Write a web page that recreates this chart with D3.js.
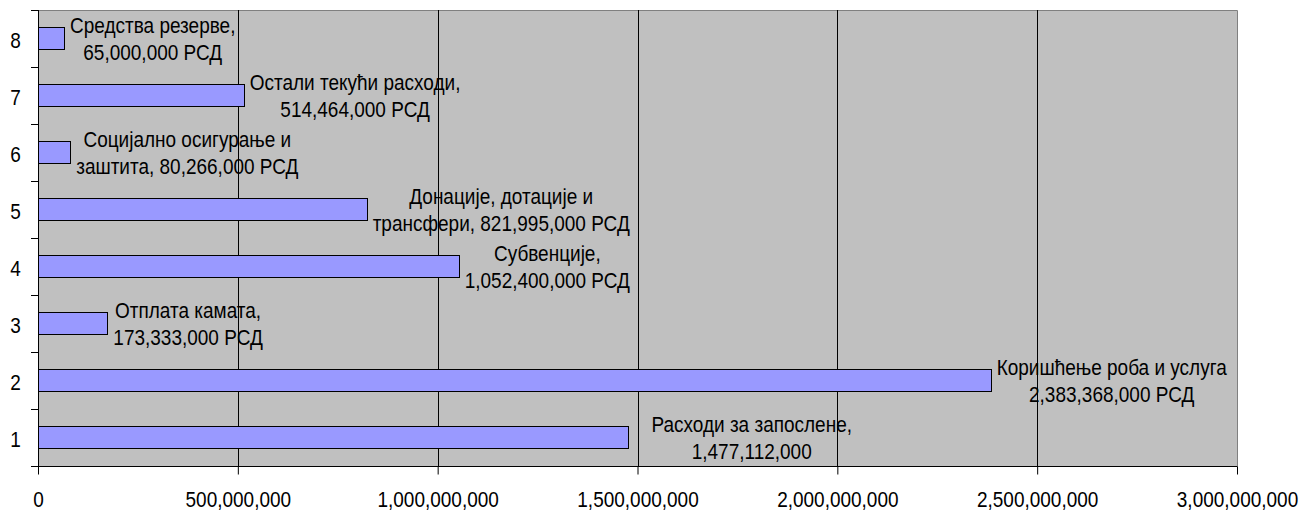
<!DOCTYPE html>
<html><head><meta charset="utf-8">
<script src="https://cdn.jsdelivr.net/npm/d3@7"></script>
<style>
html,body{margin:0;padding:0;background:#fff;}
svg{display:block;}
text{font-family:"Liberation Sans",Arial,sans-serif;fill:#000;}
</style></head>
<body>
<svg id="chart" width="1299" height="512"></svg>
<script>
const categories = ["1","2","3","4","5","6","7","8"];
const values = [1477112000, 2383368000, 173333000, 1052400000, 821995000, 80266000, 514464000, 65000000];
const labelLines = [
  ["Расходи за запослене,", "1,477,112,000"],
  ["Коришћење роба и услуга", "2,383,368,000 РСД"],
  ["Отплата камата,", "173,333,000 РСД"],
  ["Субвенције,", "1,052,400,000 РСД"],
  ["Донације, дотације и", "трансфери, 821,995,000 РСД"],
  ["Социјално осигурање и", "заштита, 80,266,000 РСД"],
  ["Остали текући расходи,", "514,464,000 РСД"],
  ["Средства резерве,", "65,000,000 РСД"]
];
const xTicks = [0, 500000000, 1000000000, 1500000000, 2000000000, 2500000000, 3000000000];
const xTickLabels = ["0", "500,000,000", "1,000,000,000", "1,500,000,000", "2,000,000,000", "2,500,000,000", "3,000,000,000"];

const svg = d3.select("#chart");
const L = 38, R = 1237, T = 10, B = 466;
const FS = 19, SY = 1.2;

const x = d3.scaleLinear().domain([0, 3000000000]).range([L, R]);
const y = d3.scaleBand().domain(categories.slice().reverse()).range([T, B]).paddingInner(0.61).paddingOuter(0.305);
const yb = d3.scaleBand().domain(categories.slice().reverse()).range([T, B]);

// plot background
svg.append("rect").attr("x", L).attr("y", T).attr("width", R - L).attr("height", B - T)
  .attr("fill", "#c0c0c0");
// top & right border
svg.append("path").attr("d", `M${L},${T+0.5}H${R+0.5}V${B}`).attr("fill","none").attr("stroke","#808080").attr("stroke-width",1);

// gridlines
svg.append("g").selectAll("line").data(xTicks.slice(1, -1)).join("line")
  .attr("x1", d => Math.round(x(d)) + 0.5).attr("x2", d => Math.round(x(d)) + 0.5)
  .attr("y1", T).attr("y2", B).attr("stroke", "#000").attr("stroke-width", 1);

// bars
svg.append("g").selectAll("rect").data(categories).join("rect")
  .attr("x", Math.round(x(0)) + 0.5)
  .attr("y", d => Math.round(y(d)) + 0.5)
  .attr("width", (d, i) => Math.round(x(values[i]) - x(0)))
  .attr("height", Math.round(y.bandwidth()))
  .attr("fill", "#9999ff").attr("stroke", "#000").attr("stroke-width", 1);

// x axis
const xAxis = d3.axisBottom(x).tickValues(xTicks).tickSize(8).tickFormat((d, i) => xTickLabels[i]);
const gx = svg.append("g").attr("transform", `translate(0,${B + 0.5})`).call(xAxis);
gx.select(".domain").attr("d", `M${L - 7},0H${R + 0.5}`).attr("stroke", "#000");
gx.selectAll(".tick line").attr("stroke", "#000");
gx.selectAll(".tick text").attr("font-size", FS).attr("font-family", "Liberation Sans, Arial, sans-serif")
  .attr("fill", "#000").attr("y", 0).attr("dy", 0)
  .attr("transform", `translate(0,40.3) scale(1,${SY})`);

// y axis
const yAxis = d3.axisLeft(yb).tickSize(0).tickPadding(0);
const gy = svg.append("g").attr("transform", `translate(${L + 0.5},0)`).call(yAxis);
gy.select(".domain").attr("d", `M0,${T}V${B}`).attr("stroke", "#000");
gy.selectAll(".tick text").attr("font-size", FS).attr("font-family", "Liberation Sans, Arial, sans-serif")
  .attr("fill", "#000").attr("x", 0).attr("dy", 0).attr("text-anchor", "middle")
  .attr("transform", `translate(-23,9.7) scale(1,${SY})`);
// band boundary ticks
const bounds = categories.map(c => yb(c)).concat([B]);
svg.append("g").selectAll("line").data(bounds).join("line")
  .attr("x1", L - 7).attr("x2", L).attr("y1", d => Math.round(d) + 0.5).attr("y2", d => Math.round(d) + 0.5)
  .attr("stroke", "#000");

// data labels
const lineH = 26.5;
const lg = svg.append("g");
categories.forEach((c, i) => {
  const g = lg.append("g");
  const cy = y(c) + y.bandwidth() / 2;
  const lines = labelLines[i];
  const texts = lines.map((t, k) => g.append("text")
    .attr("font-size", FS).attr("text-anchor", "middle").text(t));
  const w = d3.max(texts, t => t.node().getComputedTextLength());
  const cx = x(values[i]) + 6 + w / 2 + (i === 0 ? 17 : 0);
  texts.forEach((t, k) => {
    const ty = cy + (k - (lines.length - 1) / 2) * lineH + 8;
    t.attr("transform", `translate(${cx},${ty}) scale(1,${SY})`);
  });
});
</script>
</body></html>
